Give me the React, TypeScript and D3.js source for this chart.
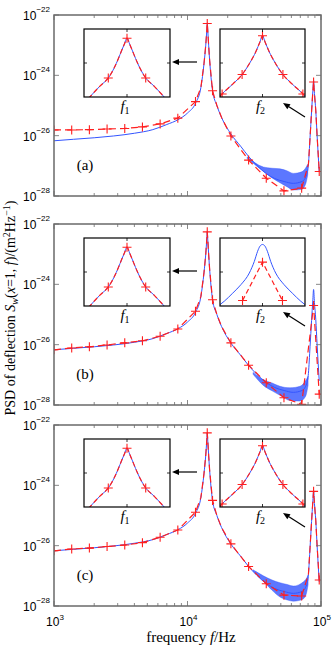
import React from "react";
import * as d3 from "d3";

// [frequency Hz, log10 PSD]
const blueLow = [
  [1000, -26.17], [1400, -26.12], [2000, -26.07], [2800, -26.01], [4000, -25.92],
  [5500, -25.8], [7000, -25.63], [8500, -25.47], [10000, -25.25], [11500, -24.92],
];
const peak1 = [
  [12600, -24.4], [13300, -23.6], [13700, -23.0], [13950, -22.5], [14060, -22.26],
  [14200, -22.55], [14400, -23.0], [14650, -23.5], [15400, -24.5],
];
const tail1 = [[16600, -25.0], [18000, -25.4]];
const blueDecay = [
  [21100, -25.94], [25000, -26.35], [28700, -26.69], [33000, -26.98], [39000, -27.26],
  [45000, -27.42], [53000, -27.52], [62000, -27.58], [72000, -27.52], [78000, -27.3],
];
const peak2 = [
  [80500, -26.95], [82800, -26.06], [85000, -25.2], [86800, -24.55], [88000, -24.17],
  [89300, -24.6], [91400, -25.17], [93500, -26.0], [97000, -27.2],
];

// noisy part of the blue curve: [Hz, upper, lower]
const bandA = [
  [28000, -26.7, -26.76], [37000, -27.04, -27.18], [43000, -27.08, -27.4], [49300, -27.1, -27.56],
  [56000, -27.17, -27.7], [62100, -27.25, -27.8], [71600, -27.2, -27.78], [76500, -27.08, -27.62],
  [79500, -26.95, -27.3],
];
const bandB = [
  [31000, -26.92, -26.98], [37000, -27.16, -27.35], [43000, -27.27, -27.53], [49300, -27.38, -27.68],
  [58600, -27.43, -27.85], [69700, -27.38, -27.87], [76500, -27.2, -27.72], [80000, -27.05, -27.35],
];
const bandC = [
  [31000, -26.8, -26.85], [37000, -27.0, -27.18], [43000, -27.14, -27.48], [49300, -27.23, -27.7],
  [56000, -27.29, -27.8], [62100, -27.34, -27.84], [68000, -27.3, -27.82], [73800, -27.2, -27.76],
  [77500, -27.1, -27.6], [80000, -26.98, -27.3],
];

// red markers
const marksA = [
  [1000, -25.81], [1357, -25.81], [1841, -25.8], [2498, -25.78], [3388, -25.76], [4597, -25.71],
  [6237, -25.61], [8462, -25.42], [11480, -24.87], [14060, -22.28], [15400, -24.51], [21140, -26.01],
  [28680, -26.81], [38910, -27.41], [52790, -27.83], [71620, -27.74], [88000, -24.22], [97000, -27.19],
];
const marksB = [
  [1000, -26.17], [1357, -26.11], [1841, -26.07], [2498, -26.01], [3388, -25.94], [4597, -25.87],
  [6237, -25.72], [8462, -25.48], [11480, -24.89], [14060, -22.26], [15400, -24.51], [21140, -25.94],
  [28680, -26.68], [38910, -27.26], [52790, -27.76], [71620, -27.98], [88000, -24.7], [97000, -27.64],
];
const marksC = [
  [1000, -26.17], [1357, -26.11], [1841, -26.08], [2498, -26.03], [3388, -25.98], [4597, -25.9],
  [6237, -25.72], [8462, -25.48], [11480, -24.89], [14060, -22.26], [15400, -24.5], [21140, -25.94],
  [28680, -26.69], [38910, -27.26], [52790, -27.64], [71620, -27.67], [88000, -24.2], [97000, -27.14],
];

// insets: [offset from peak Hz, log10 PSD]
const insetF1 = [
  [-90, -24.05], [-63, -23.68], [-43.5, -23.44], [-30, -23.15], [-20, -22.87], [-12, -22.62],
  [-6, -22.44], [0, -22.27], [6, -22.44], [12, -22.62], [20, -22.87], [30, -23.15],
  [43.5, -23.44], [63, -23.68], [90, -24.05],
];
const insetF1Marks = [[-43.5, -23.44], [0, -22.27], [43.5, -23.44]];
const insetF2 = [
  [-100, -23.98], [-95, -23.91], [-70, -23.62], [-48, -23.34], [-30, -23.0], [-15, -22.65],
  [-6, -22.38], [0, -22.2], [6, -22.38], [15, -22.65], [30, -23.0], [48, -23.34],
  [70, -23.62], [95, -23.91], [100, -23.98],
];
const insetF2Marks = [[-95, -23.91], [-48, -23.34], [0, -22.2], [48, -23.34], [95, -23.91]];
const insetF2B = [
  [-100, -23.96], [-90, -23.86], [-70, -23.62], [-50.6, -23.37], [-31, -23.03], [-19.3, -22.69],
  [-11.5, -22.39], [-5.9, -22.24], [0, -22.19], [5.9, -22.24], [11.5, -22.39], [19.3, -22.69],
  [31, -23.03], [50.6, -23.37], [70, -23.62], [90, -23.86], [100, -23.96],
];
const insetF2BMarks = [[-47, -23.84], [0, -22.71], [47, -23.84]];

const yTicks = [-22, -24, -26, -28];
const xLabels = [1e3, 1e4, 1e5];
const panelNames = ["(a)", "(b)", "(c)"];

const W = 336;
const H = 650;
const X0 = 54;
const X1 = 321;
const PH = 181;
const tops = [15, 224, 425];
const BLUE = "#3355ff";
const RED = "#ff1f1f";
const AX = "#6a6a6a";
const SERIF = "'Liberation Serif', 'Times New Roman', serif";
const SANS = "'Liberation Sans', Arial, sans-serif";

const blueMain = [...blueLow, ...peak1, ...tail1, ...blueDecay, ...peak2];

function redLine(marks, extra) {
  const fs = new Set(marks.map((d) => d[0]));
  return d3.sort([...marks, ...extra.filter((d) => !fs.has(d[0]))], (d) => d[0]);
}

const panels = [
  { band: bandA, marks: marksA, red: redLine(marksA, [...peak1, ...tail1, ...peak2]), f2: insetF2, f2Marks: insetF2Marks, f2Red: insetF2 },
  { band: bandB, marks: marksB, red: redLine(marksB, [...peak1, ...tail1]), f2: insetF2B, f2Marks: insetF2BMarks, f2Red: insetF2BMarks },
  { band: bandC, marks: marksC, red: redLine(marksC, [...peak1, ...tail1, ...peak2]), f2: insetF2, f2Marks: insetF2Marks, f2Red: insetF2 },
];

const x = d3.scaleLog().domain([1e3, 1e5]).range([X0, X1]);

function Plus({ cx, cy, s = 4.5 }) {
  return (
    <path
      d={`M${cx - s},${cy}H${cx + s}M${cx},${cy - s}V${cy + s}`}
      stroke={RED}
      strokeWidth={1.1}
    />
  );
}

function Arrow({ x1, y1, x2, y2 }) {
  const a = Math.atan2(y2 - y1, x2 - x1);
  const L = 7, w = 3;
  const bx = x2 - L * Math.cos(a), by = y2 - L * Math.sin(a);
  const px = -Math.sin(a) * w, py = Math.cos(a) * w;
  return (
    <g>
      <line x1={x1} y1={y1} x2={bx} y2={by} stroke="#000" strokeWidth={1.2} />
      <path d={`M${x2},${y2}L${bx + px},${by + py}L${bx - px},${by - py}Z`} fill="#000" />
    </g>
  );
}

function Inset({ id, x0, x1, y0, y1, blue, red, marks, label, sub, dashedRed }) {
  const ix = d3.scaleLinear().domain([-100, 100]).range([x0, x1]);
  const iy = d3.scaleLinear().domain([-24, -22]).range([y1, y0]);
  const ln = d3.line().x((d) => ix(d[0])).y((d) => iy(d[1])).curve(d3.curveMonotoneX);
  const lr = d3.line().x((d) => ix(d[0])).y((d) => iy(d[1]));
  const xm = ix(0), ym = iy(-23);
  return (
    <g>
      <clipPath id={id}>
        <rect x={x0} y={y0} width={x1 - x0} height={y1 - y0} />
      </clipPath>
      <rect x={x0} y={y0} width={x1 - x0} height={y1 - y0} fill="#fff" />
      <g clipPath={`url(#${id})`}>
        <path d={ln(blue)} fill="none" stroke={BLUE} strokeWidth={1} />
        <path
          d={dashedRed ? lr(red) : ln(red)}
          fill="none"
          stroke={RED}
          strokeWidth={1.2}
          strokeDasharray="5,3"
        />
        {marks.map((d, i) => (
          <Plus key={i} cx={ix(d[0])} cy={iy(d[1])} />
        ))}
      </g>
      <path
        d={`M${xm},${y1}v-3M${xm},${y0}v3M${x0},${ym}h3M${x1},${ym}h-3`}
        stroke="#000"
        strokeWidth={0.8}
      />
      <rect x={x0} y={y0} width={x1 - x0} height={y1 - y0} fill="none" stroke="#000" strokeWidth={1.2} />
      <text x={(x0 + x1) / 2 - 2} y={y1 + 14} fontFamily={SERIF} fontSize={15} textAnchor="middle">
        <tspan fontStyle="italic">{label}</tspan>
        <tspan fontSize={10} dy={3}>{sub}</tspan>
      </text>
    </g>
  );
}

function Panel({ idx, p }) {
  const top = tops[idx];
  const bottom = top + PH;
  const y = d3.scaleLinear().domain([-28, -22]).range([bottom, top]);
  const line = d3.line().x((d) => x(d[0])).y((d) => y(d[1])).curve(d3.curveMonotoneX);
  const straight = d3.line().x((d) => x(d[0])).y((d) => y(d[1]));
  const area = d3
    .area()
    .x((d) => x(d[0]))
    .y0((d) => y(d[2]))
    .y1((d) => y(d[1]))
    .curve(d3.curveMonotoneX);
  const ticks = x.ticks();
  const isMajor = (t) => Math.abs(Math.log10(t) - Math.round(Math.log10(t))) < 1e-6;
  const cid = `clip${idx}`;
  return (
    <g>
      <clipPath id={cid}>
        <rect x={X0} y={top} width={X1 - X0} height={PH} />
      </clipPath>
      <g clipPath={`url(#${cid})`}>
        <path d={line(blueMain)} fill="none" stroke={BLUE} strokeWidth={1} />
        <path
          d={area(p.band)}
          fill={BLUE}
          fillOpacity={0.8}
          stroke={BLUE}
          strokeOpacity={0.6}
          strokeWidth={0.7}
        />
        <path
          d={straight(p.red)}
          fill="none"
          stroke={RED}
          strokeWidth={1.2}
          strokeDasharray="7,4"
        />
        {p.marks.map((d, i) => (
          <Plus key={i} cx={x(d[0])} cy={y(d[1])} />
        ))}
      </g>
      {ticks.map((t, i) => {
        const L = isMajor(t) ? 5 : 3;
        return (
          <path
            key={i}
            d={`M${x(t)},${bottom}v${-L}M${x(t)},${top}v${L}`}
            stroke={AX}
            strokeWidth={0.8}
          />
        );
      })}
      {yTicks.map((t) => (
        <path key={t} d={`M${X0},${y(t)}h5M${X1},${y(t)}h-5`} stroke={AX} strokeWidth={0.8} />
      ))}
      <rect x={X0} y={top} width={X1 - X0} height={PH} fill="none" stroke={AX} strokeWidth={1.5} />
      {yTicks.map((t) => (
        <text key={t} x={50} y={y(t) + 5} textAnchor="end" fontFamily={SANS} fontSize={12}>
          10
          <tspan dy={-8} fontSize={8}>{`\u2212${-t}`}</tspan>
        </text>
      ))}
      <Inset
        id={`in1_${idx}`}
        x0={84}
        x1={170}
        y0={top + 14}
        y1={top + 82}
        blue={insetF1}
        red={insetF1}
        marks={insetF1Marks}
        label="f"
        sub="1"
      />
      <Inset
        id={`in2_${idx}`}
        x0={220}
        x1={305}
        y0={top + 14}
        y1={top + 82}
        blue={p.f2}
        red={p.f2Red}
        marks={p.f2Marks}
        label="f"
        sub="2"
        dashedRed={p.f2Red === insetF2BMarks}
      />
      <Arrow x1={197} y1={top + 47} x2={172} y2={top + 47} />
      <Arrow x1={305} y1={top + 102} x2={283} y2={top + 88} />
      <text x={85} y={top + 155} textAnchor="middle" fontFamily={SERIF} fontSize={15}>
        {panelNames[idx]}
      </text>
    </g>
  );
}

export default function App() {
  const bottom = tops[2] + PH;
  return (
    <svg
      width={W}
      height={H}
      style={{ position: "absolute", left: 0, top: 0, background: "#fff" }}
    >
      <rect width={W} height={H} fill="#fff" />
      {panels.map((p, i) => (
        <Panel key={i} idx={i} p={p} />
      ))}
      {xLabels.map((t) => (
        <text key={t} x={x(t) + 1} y={bottom + 20} textAnchor="middle" fontFamily={SANS} fontSize={12}>
          10
          <tspan dy={-6} fontSize={8}>{Math.round(Math.log10(t))}</tspan>
        </text>
      ))}
      <text x={191} y={642} textAnchor="middle" fontFamily={SERIF} fontSize={15}>
        frequency <tspan fontStyle="italic">f</tspan>/Hz
      </text>
      <text transform="translate(15,308) rotate(-90)" textAnchor="middle" fontFamily={SERIF} fontSize={14}>
        PSD of deflection <tspan fontStyle="italic">S</tspan>
        <tspan fontStyle="italic" fontSize={10} dy={3}>w</tspan>
        <tspan dy={-3}>(</tspan>
        <tspan fontStyle="italic">x</tspan>=1, <tspan fontStyle="italic">f</tspan>)/(m
        <tspan fontSize={10} dy={-5}>2</tspan>
        <tspan dy={5}>Hz</tspan>
        <tspan fontSize={10} dy={-5}>{"\u22121"}</tspan>
        <tspan dy={5}>)</tspan>
      </text>
    </svg>
  );
}
